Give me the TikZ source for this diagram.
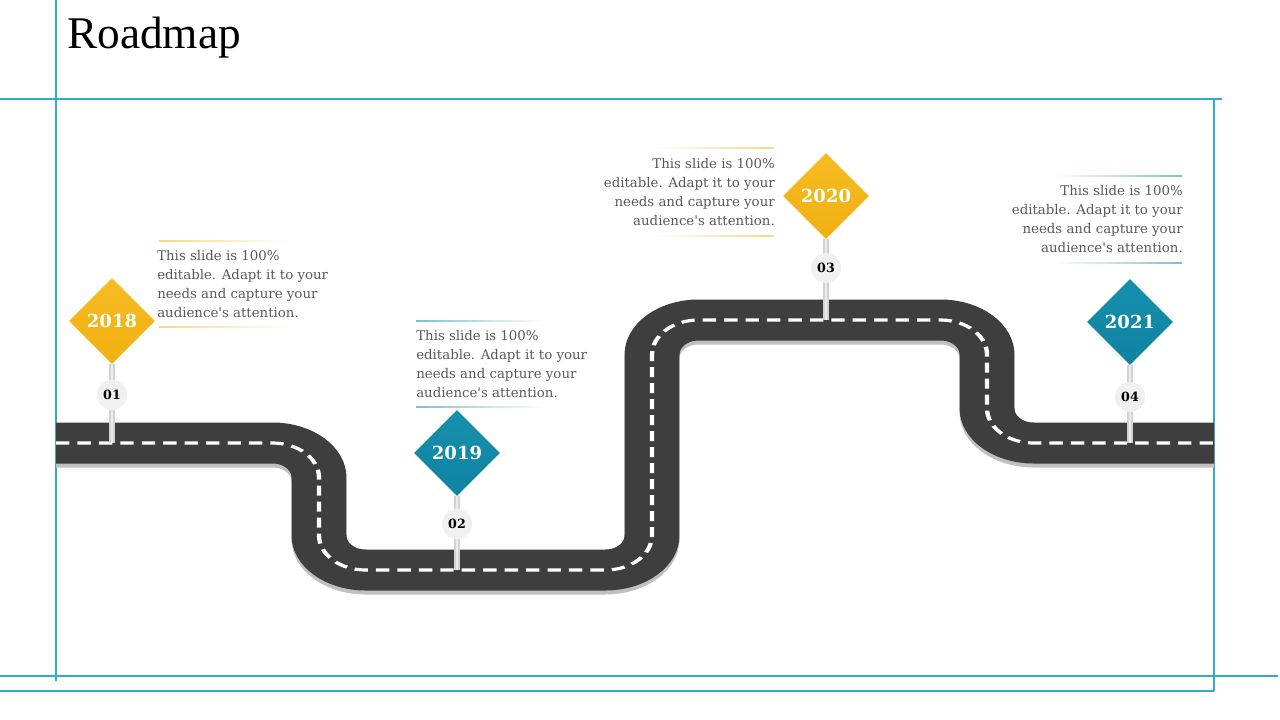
\documentclass[tikz,border=0pt]{standalone}
\usepackage{fontspec}
\setmainfont{DejaVu Serif}
\newfontfamily\titlefont{Liberation Serif}
\usepackage{xcolor}
\usetikzlibrary{shapes.geometric,positioning,calc}

\definecolor{framecol}{RGB}{48,172,200}
\definecolor{roadgray}{RGB}{62,62,62}
\definecolor{roadshade}{RGB}{192,192,192}
\definecolor{markgold}{RGB}{244,183,26}
\definecolor{goldtop}{RGB}{246,188,36}
\definecolor{goldbot}{RGB}{240,176,16}
\definecolor{markteal}{RGB}{19,138,168}
\definecolor{tealtop}{RGB}{22,143,173}
\definecolor{tealbot}{RGB}{15,131,161}
\definecolor{bodytext}{RGB}{89,89,89}

\begin{document}
\begin{tikzpicture}[x=0.75pt,y=-0.75pt,
    frameline/.style={framecol, line width=1.5pt},
    road/.style={roadgray, line width=30.75pt, rounded corners=26pt},
    roadshadow/.style={roadshade, line width=30.75pt, rounded corners=26pt},
    roadmark/.style={white, line width=2.4pt, rounded corners=26pt, dash pattern=on 7.5pt off 4.5pt},
    pole/.style={gray!35, line width=4.2pt},
    polelight/.style={white!85!gray, line width=1.2pt},
    goldsign/.style={diamond, aspect=1, minimum size=64.5pt, inner sep=0pt, top color=goldtop, bottom color=goldbot, text=white, font=\bfseries\fontsize{13.5}{13.5}\selectfont},
    tealsign/.style={goldsign, top color=tealtop, bottom color=tealbot},
    numdot/.style={circle, fill=gray!12, minimum size=22.5pt, inner sep=0pt, font=\bfseries\fontsize{9.5}{9.5}\selectfont},
    blurb/.style={inner sep=0pt, text=bodytext, font=\fontsize{10}{14.25}\selectfont}]
    \useasboundingbox (0,0) rectangle (1280,720);

    % Frame
    \draw[frameline] (56,0) -- (56,681);
    \draw[frameline] (0,99) -- (1222,99);
    \draw[frameline] (1214,99) -- (1214,691);
    \draw[frameline] (0,676) -- (1278,676);
    \draw[frameline] (0,691) -- (1214,691);
    \node[anchor=base west, inner sep=0pt, font=\titlefont\fontsize{34}{34}\selectfont] (title) at (67,49) {Roadmap};

    % Road
    \begin{scope}[transform canvas={xscale=1.34}, x=0.559701pt]
        \draw[roadshadow, yshift=-3pt] (56,443) -- (319,443) -- (319,570) -- (652,570) -- (652,320) -- (987,320) -- (987,443) -- (1214,443);
        \draw[road] (56,443) -- (319,443) -- (319,570) -- (652,570) -- (652,320) -- (987,320) -- (987,443) -- (1214,443);
        \draw[roadmark] (56,443) -- (319,443) -- (319,570) -- (652,570) -- (652,320) -- (987,320) -- (987,443) -- (1214,443);
    \end{scope}

    % Markers
    \coordinate (r18) at (112,443);
    \coordinate (r19) at (457,570);
    \coordinate (r20) at (826,320);
    \coordinate (r21) at (1130,443);
    \node[goldsign] (y18) at (112,321) {2018};
    \node[tealsign] (y19) at (457,453) {2019};
    \node[goldsign] (y20) at (826,196) {2020};
    \node[tealsign] (y21) at (1130,322) {2021};
    \draw[pole] (y18.south) -- (r18);
    \draw[pole] (y19.south) -- (r19);
    \draw[pole] (y20.south) -- (r20);
    \draw[pole] (y21.south) -- (r21);
    \draw[polelight] (y18.south) -- (r18);
    \draw[polelight] (y19.south) -- (r19);
    \draw[polelight] (y20.south) -- (r20);
    \draw[polelight] (y21.south) -- (r21);
    \node[numdot] (n18) at (112,395) {01};
    \node[numdot] (n19) at (457,524) {02};
    \node[numdot] (n20) at (826,268) {03};
    \node[numdot] (n21) at (1130,397) {04};

    % Texts
    \node[blurb, anchor=north west, align=left] (t18) at (157,250) {This slide is 100\%\\editable. Adapt it to your\\needs and capture your\\audience\textquotesingle s attention.};
    \node[blurb, anchor=north west, align=left] (t19) at (416,330) {This slide is 100\%\\editable. Adapt it to your\\needs and capture your\\audience\textquotesingle s attention.};
    \node[blurb, anchor=north east, align=right] (t20) at (775,158) {This slide is 100\%\\editable. Adapt it to your\\needs and capture your\\audience\textquotesingle s attention.};
    \node[blurb, anchor=north east, align=right] (t21) at (1183,185) {This slide is 100\%\\editable. Adapt it to your\\needs and capture your\\audience\textquotesingle s attention.};
    \shade[left color=markgold!55, right color=white] (159,240.5) rectangle (290,241.5);
    \shade[left color=markgold!55, right color=white] (159,326.5) rectangle (290,327.5);
    \shade[left color=markteal!55, right color=white] (416,320.5) rectangle (545,321.5);
    \shade[left color=markteal!55, right color=white] (416,406.5) rectangle (545,407.5);
    \shade[left color=white, right color=markgold!55] (650,147.5) rectangle (774,148.5);
    \shade[left color=white, right color=markgold!55] (650,235.5) rectangle (774,236.5);
    \shade[left color=white, right color=markteal!55] (1055,175.5) rectangle (1182,176.5);
    \shade[left color=white, right color=markteal!55] (1055,262.5) rectangle (1182,263.5);
\end{tikzpicture}
\end{document}
